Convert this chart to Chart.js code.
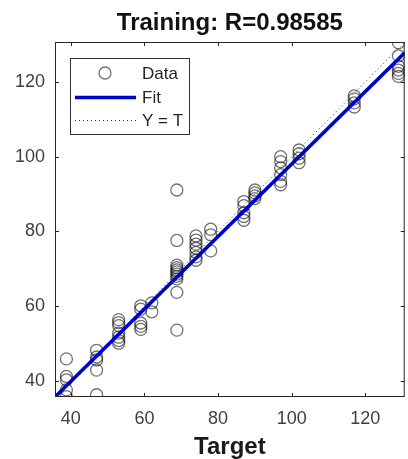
<!DOCTYPE html>
<html>
<head>
<meta charset="utf-8">
<script src="https://cdn.jsdelivr.net/npm/chart.js@4.4.1/dist/chart.umd.min.js"></script>
<style>
    html, body { margin: 0; padding: 0; background: #fff; overflow: hidden; }
    #wrap { width: 412px; height: 459px; }
</style>
</head>
<body>
<div id="wrap"><canvas id="regressionChart" width="412" height="459"></canvas></div>
<script>
// Target values (x) and network outputs (y)
const targets = [
    38.8, 38.8, 38.8, 38.8, 38.8,
    47, 47, 47, 47, 47,
    53, 53, 53, 53, 53, 53, 53,
    59, 59, 59, 59, 59,
    62, 62,
    68.8, 68.8, 68.8, 68.8, 68.8, 68.8, 68.8, 68.8, 68.8, 68.8, 68.8,
    74, 74, 74, 74, 74, 74, 74,
    78, 78, 78,
    87, 87, 87, 87, 87,
    90, 90, 90, 90,
    97, 97, 97, 97, 97, 97,
    102, 102, 102, 102,
    117, 117, 117, 117,
    129, 129, 129, 129, 129, 129
];
const outputs = [
    45.9, 41.2, 40.3, 37.6, 35.8,
    48.2, 46.4, 45.6, 42.9, 36.3,
    56.4, 55.6, 54.8, 52.8, 51.7, 50.8, 50.1,
    60.1, 59.2, 55.5, 54.6, 53.8,
    60.9, 58.5,
    91.1, 77.6, 71.0, 70.3, 69.7, 69.2, 68.6, 68.0, 67.3, 63.7, 53.6,
    78.8, 77.7, 76.6, 75.5, 74.4, 73.2, 72.3,
    80.6, 79.1, 74.8,
    88.0, 86.9, 85.0, 84.0, 83.0,
    91.1, 90.3, 89.5, 88.8,
    100.0, 98.7, 97.0, 95.2, 93.4, 92.5,
    101.8, 100.8, 99.6, 98.4,
    116.3, 115.5, 114.4, 113.3,
    130.5, 127.0, 124.2, 123.2, 122.3, 121.5
];

// Fit line and Y = T line end points
const fitX = [35.7, 130.7];
const fitY = [35.7, 127.8];
const identityX = [35.7, 130.7];
const identityY = [35.7, 130.7];

// Axis limits and tick labels
const axisMin = 35.7;
const axisMax = 130.7;
const tickValues = [40, 60, 80, 100, 120];

const chartTitle = 'Training: R=0.98585';
const FONT = "'Liberation Sans', Arial, Helvetica, sans-serif";

const toPoints = (xs, ys) => xs.map((x, i) => ({ x: x, y: ys[i] }));

/**
 * Draws the title centred over the axes (not the whole canvas)
 */
const titlePlugin = {
    id: 'axesTitle',
    afterDraw(chart) {
        const { ctx, chartArea: a } = chart;
        ctx.save();
        ctx.font = 'bold 24px ' + FONT;
        ctx.fillStyle = '#111';
        ctx.textAlign = 'center';
        ctx.textBaseline = 'alphabetic';
        ctx.fillText(chartTitle, (a.left + a.right) / 2, 30);
        ctx.restore();
    }
};

/**
 * Draws the full axes box with inward tick marks on every side
 */
const boxPlugin = {
    id: 'matlabBox',
    afterDatasetsDraw(chart) {
        const { ctx, chartArea: a, scales } = chart;
        ctx.save();
        ctx.strokeStyle = '#262626';
        ctx.lineWidth = 1;
        ctx.strokeRect(a.left + 0.5, a.top + 0.5, a.right - a.left - 1, a.bottom - a.top - 1);
        const len = 4;
        ctx.beginPath();
        tickValues.forEach(v => {
            const px = Math.round(scales.x.getPixelForValue(v)) + 0.5;
            ctx.moveTo(px, a.bottom);
            ctx.lineTo(px, a.bottom - len);
            ctx.moveTo(px, a.top);
            ctx.lineTo(px, a.top + len);
            const py = Math.round(scales.y.getPixelForValue(v)) + 0.5;
            ctx.moveTo(a.left, py);
            ctx.lineTo(a.left + len, py);
            ctx.moveTo(a.right, py);
            ctx.lineTo(a.right - len, py);
        });
        ctx.stroke();
        ctx.restore();
    }
};

/**
 * Draws the legend box inside the upper left corner of the axes
 */
const legendPlugin = {
    id: 'insideLegend',
    afterDraw(chart) {
        const { ctx } = chart;
        const sets = chart.data.datasets;
        const box = { x: 70.5, y: 58.5, w: 119, h: 76 };
        ctx.save();
        ctx.fillStyle = '#fff';
        ctx.fillRect(box.x, box.y, box.w, box.h);
        ctx.strokeStyle = '#333';
        ctx.lineWidth = 1;
        ctx.strokeRect(box.x, box.y, box.w, box.h);

        const rows = [73, 97, 120];
        ctx.font = '17px ' + FONT;
        ctx.textBaseline = 'middle';
        sets.forEach((ds, i) => {
            const y = rows[i];
            if (ds.showLine === false) {
                ctx.beginPath();
                ctx.arc(105, y, ds.pointRadius, 0, Math.PI * 2);
                ctx.strokeStyle = ds.borderColor;
                ctx.lineWidth = ds.borderWidth;
                ctx.stroke();
            } else {
                ctx.beginPath();
                ctx.setLineDash(ds.borderDash || []);
                ctx.moveTo(75, y + 0.5);
                ctx.lineTo(136, y + 0.5);
                ctx.strokeStyle = ds.borderColor;
                ctx.lineWidth = ds.borderWidth;
                ctx.stroke();
                ctx.setLineDash([]);
            }
            ctx.fillStyle = '#262626';
            ctx.fillText(ds.label, 142, y + 1);
        });
        ctx.restore();
    }
};

const ctx = document.getElementById('regressionChart').getContext('2d');

new Chart(ctx, {
    type: 'scatter',
    data: {
        datasets: [
            {
                label: 'Data',
                data: toPoints(targets, outputs),
                showLine: false,
                pointStyle: 'circle',
                pointRadius: 6,
                backgroundColor: 'rgba(0,0,0,0)',
                borderColor: 'rgba(20,20,20,0.6)',
                borderWidth: 1.3,
                order: 3
            },
            {
                label: 'Fit',
                data: toPoints(fitX, fitY),
                showLine: true,
                pointRadius: 0,
                borderColor: '#0000cc',
                borderWidth: 3.5,
                order: 1
            },
            {
                label: 'Y = T',
                data: toPoints(identityX, identityY),
                showLine: true,
                pointRadius: 0,
                borderColor: '#333',
                borderWidth: 1,
                borderDash: [1, 3],
                order: 2
            }
        ]
    },
    options: {
        responsive: false,
        animation: false,
        layout: { padding: { left: 0, right: 2, top: 42, bottom: 0 } },
        scales: {
            x: {
                type: 'linear',
                min: axisMin,
                max: axisMax,
                afterBuildTicks: scale => { scale.ticks = tickValues.map(v => ({ value: v })); },
                afterFit: scale => { scale.height = 62; },
                grid: { display: false, drawTicks: false },
                border: { display: false },
                ticks: {
                    padding: 11,
                    color: '#404040',
                    font: { family: FONT, size: 18 }
                },
                title: {
                    display: true,
                    text: 'Target',
                    color: '#1a1a1a',
                    font: { family: FONT, size: 24, weight: 'bold', lineHeight: 1 },
                    padding: { top: 0, bottom: 0 }
                }
            },
            y: {
                type: 'linear',
                min: axisMin,
                max: axisMax,
                afterBuildTicks: scale => { scale.ticks = tickValues.map(v => ({ value: v })); },
                afterFit: scale => { scale.width = 55; },
                grid: { display: false, drawTicks: false },
                border: { display: false },
                ticks: {
                    padding: 10,
                    color: '#404040',
                    font: { family: FONT, size: 18 }
                }
            }
        },
        plugins: {
            legend: { display: false },
            tooltip: { enabled: false },
            title: { display: false }
        }
    },
    plugins: [boxPlugin, legendPlugin, titlePlugin]
});
</script>
</body>
</html>
